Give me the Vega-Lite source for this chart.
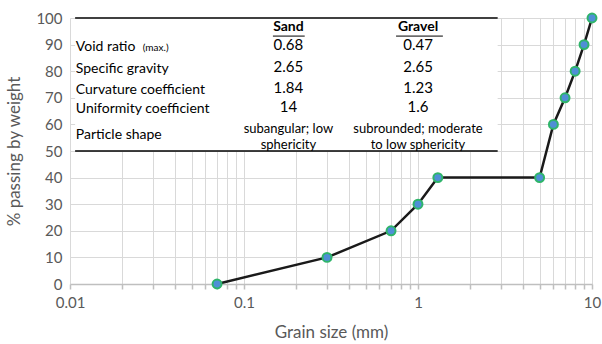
{
  "$schema": "https://vega.github.io/schema/vega-lite/v6.json",
  "width": 522,
  "height": 266,
  "autosize": "none",
  "padding": {"left": 70, "top": 18, "right": 10, "bottom": 60},
  "background": "white",
  "config": {
    "view": {"stroke": null},
    "font": "Lato",
    "axis": {"labelFont": "Lato", "titleFont": "Lato", "labelColor": "#595959", "titleColor": "#595959", "titleFontWeight": "normal", "gridColor": "#d9d9d9", "gridWidth": 1}
  },
  "datasets": {
    "curve": [
      {"size": 0.07, "pct": 0},
      {"size": 0.3, "pct": 10},
      {"size": 0.7, "pct": 20},
      {"size": 1.0, "pct": 30},
      {"size": 1.3, "pct": 40},
      {"size": 5.0, "pct": 40},
      {"size": 6.0, "pct": 60},
      {"size": 7.0, "pct": 70},
      {"size": 8.0, "pct": 80},
      {"size": 9.0, "pct": 90},
      {"size": 10.0, "pct": 100}
    ],
    "rowlabels": [
      {"text": "Void ratio", "y": 89.1},
      {"text": "Specific gravity", "y": 80.8},
      {"text": "Curvature coefficient", "y": 73.1},
      {"text": "Uniformity coefficient", "y": 65.9},
      {"text": "Particle shape", "y": 56.2}
    ],
    "values": [
      {"col": "Sand", "text": "0.68", "y": 89.8},
      {"col": "Gravel", "text": "0.47", "y": 89.8},
      {"col": "Sand", "text": "2.65", "y": 81.6},
      {"col": "Gravel", "text": "2.65", "y": 81.6},
      {"col": "Sand", "text": "1.84", "y": 73.7},
      {"col": "Gravel", "text": "1.23", "y": 73.7},
      {"col": "Sand", "text": "14", "y": 66.5},
      {"col": "Gravel", "text": "1.6", "y": 66.5}
    ],
    "shape": [
      {"col": "Sand", "text": "subangular; low", "y": 58.4},
      {"col": "Sand", "text": "sphericity", "y": 52.3},
      {"col": "Gravel", "text": "subrounded; moderate", "y": 58.4},
      {"col": "Gravel", "text": "to low sphericity", "y": 52.3}
    ]
  },
  "encoding": {
    "y": {"type": "quantitative", "scale": {"domain": [0, 100]},
      "axis": {"title": "% passing by weight", "titleFontSize": 17, "titlePadding": 12, "labelFontSize": 15, "labelPadding": 8, "labelOverlap": false,
        "values": [0,10,20,30,40,50,60,70,80,90,100], "domain": false, "tickSize": 0, "grid": true}}
  },
  "layer": [
    {
      "data": {"name": "curve"},
      "mark": {"type": "line", "strokeWidth": 0, "opacity": 0},
      "encoding": {
        "x": {"field": "size", "type": "quantitative", "scale": {"type": "log", "domain": [0.01, 10]},
          "axis": {"title": "Grain size (mm)", "titleFontSize": 17, "titlePadding": 14, "labelFontSize": 15, "labelPadding": 6,
            "values": [0.01,0.02,0.03,0.04,0.05,0.06,0.07,0.08,0.09,0.1,0.2,0.3,0.4,0.5,0.6,0.7,0.8,0.9,1,2,3,4,5,6,7,8,9,10],
            "labelExpr": "indexof(['0.01','0.1','1','10'], format(datum.value, '~g')) >= 0 ? format(datum.value, '~g') : ''",
            "grid": true, "domain": true, "domainColor": "#bfbfbf", "domainWidth": 1.5, "tickColor": "#bfbfbf", "tickSize": 5, "tickWidth": 1.5, "labelFlush": false, "labelOverlap": false}},
        "y": {"field": "pct"}
      }
    },
    {
      "data": {"values": [{}]},
      "mark": {"type": "rect", "fill": "white", "stroke": null},
      "encoding": {
        "x": {"datum": 0.0107, "type": "quantitative"},
        "x2": {"datum": 2.87},
        "y": {"datum": 50},
        "y2": {"datum": 100}
      }
    },
    {
      "data": {"values": [{"y": 100}, {"y": 50}]},
      "mark": {"type": "rule", "color": "black", "strokeWidth": 1.5},
      "encoding": {
        "x": {"datum": 0.0107, "type": "quantitative"},
        "x2": {"datum": 2.87},
        "y": {"field": "y"}
      }
    },
    {
      "data": {"values": [{"col": "Sand", "x": 0.1466, "x2": 0.2233}, {"col": "Gravel", "x": 0.748, "x2": 1.39}]},
      "mark": {"type": "rule", "color": "black", "strokeWidth": 1},
      "encoding": {
        "x": {"field": "x", "type": "quantitative"},
        "x2": {"field": "x2"},
        "y": {"datum": 93.2}
      }
    },
    {
      "data": {"values": [{"text": "Sand", "x": 0.18}, {"text": "Gravel", "x": 1.0}]},
      "mark": {"type": "text", "fontWeight": "bold", "fontSize": 14, "align": "center", "baseline": "middle", "color": "black"},
      "encoding": {
        "x": {"field": "x", "type": "quantitative"},
        "y": {"datum": 96.6},
        "text": {"field": "text"}
      }
    },
    {
      "data": {"name": "rowlabels"},
      "mark": {"type": "text", "fontSize": 14, "align": "left", "baseline": "middle", "color": "black"},
      "encoding": {
        "x": {"datum": 0.0108, "type": "quantitative"},
        "y": {"field": "y"},
        "text": {"field": "text"}
      }
    },
    {
      "data": {"values": [{"text": "(max.)"}]},
      "mark": {"type": "text", "fontSize": 10, "align": "left", "baseline": "middle", "color": "black"},
      "encoding": {
        "x": {"datum": 0.0262, "type": "quantitative"},
        "y": {"datum": 88.6},
        "text": {"field": "text"}
      }
    },
    {
      "data": {"name": "values"},
      "transform": [{"calculate": "datum.col === 'Sand' ? 0.18 : 1.0", "as": "x"}],
      "mark": {"type": "text", "fontSize": 15, "align": "center", "baseline": "middle", "color": "black"},
      "encoding": {
        "x": {"field": "x", "type": "quantitative"},
        "y": {"field": "y"},
        "text": {"field": "text"}
      }
    },
    {
      "data": {"name": "shape"},
      "transform": [{"calculate": "datum.col === 'Sand' ? 0.18 : 1.0", "as": "x"}],
      "mark": {"type": "text", "fontSize": 13, "align": "center", "baseline": "middle", "color": "black"},
      "encoding": {
        "x": {"field": "x", "type": "quantitative"},
        "y": {"field": "y"},
        "text": {"field": "text"}
      }
    },
    {
      "data": {"name": "curve"},
      "mark": {"type": "line", "color": "#1a1a1a", "strokeWidth": 2.5},
      "encoding": {
        "x": {"field": "size", "type": "quantitative"},
        "y": {"field": "pct"}
      }
    },
    {
      "data": {"name": "curve"},
      "mark": {"type": "point", "filled": true, "fill": "#4f8fd6", "stroke": "#2fb56a", "strokeWidth": 2, "size": 80, "opacity": 1},
      "encoding": {
        "x": {"field": "size", "type": "quantitative"},
        "y": {"field": "pct"}
      }
    }
  ]
}
